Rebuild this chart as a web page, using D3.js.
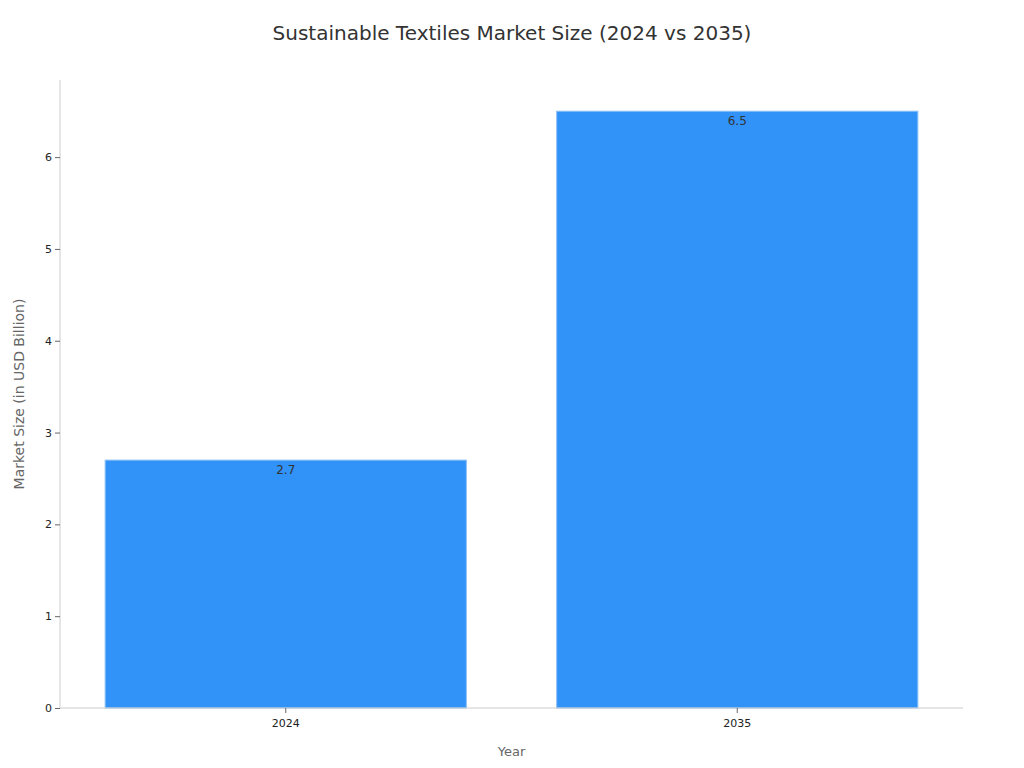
<!DOCTYPE html>
<html><head><meta charset="utf-8">
<script src="https://cdn.jsdelivr.net/npm/d3@7"></script>
<style>body{margin:0;background:#fff;font-family:"DejaVu Sans",sans-serif;}</style>
</head><body>
<svg id="chart" width="1024" height="768"></svg>
<script>
var years = ["2024", "2035"];
var sizes = [2.7, 6.5];
var yTicks = [0, 1, 2, 3, 4, 5, 6];

var svg = d3.select("#chart");
var mLeft = 60, mRight = 963, mTop = 80, mBottom = 708;

var x = d3.scaleBand().domain(years).range([mLeft, mRight]).paddingInner(0.2).paddingOuter(0.1);
var y = d3.scaleLinear().domain([0, 6.84]).range([mBottom, mTop]);

svg.append("text").attr("x", 512).attr("y", 40).attr("text-anchor", "middle")
    .style("font-size", "20px").style("fill", "#333")
    .text("Sustainable Textiles Market Size (2024 vs 2035)");

svg.selectAll("rect.bar").data(sizes).enter().append("rect")
    .attr("class", "bar")
    .attr("x", function(d, i){ return x(years[i]); })
    .attr("width", x.bandwidth())
    .attr("y", function(d){ return y(d); })
    .attr("height", function(d){ return mBottom - y(d); })
    .attr("fill", "#3192f8").attr("stroke", "#8cc0f5").attr("stroke-width", 1);

svg.selectAll("text.val").data(sizes).enter().append("text")
    .attr("class", "val")
    .attr("x", function(d, i){ return x(years[i]) + x.bandwidth() / 2; })
    .attr("y", function(d){ return y(d) + 14; })
    .attr("text-anchor", "middle").style("font-size", "12px").style("fill", "#333")
    .text(function(d){ return d; });

var yAxis = svg.append("g").attr("transform", "translate(" + mLeft + ",0)")
    .call(d3.axisLeft(y).tickValues(yTicks).tickFormat(d3.format("d")).tickSize(5).tickPadding(3));
var xAxis = svg.append("g").attr("transform", "translate(0," + mBottom + ")")
    .call(d3.axisBottom(x).tickSize(5).tickPadding(6));
[xAxis, yAxis].forEach(function(a){
    a.select(".domain").attr("stroke", "#ccc");
    a.selectAll(".tick line").attr("stroke", "#666");
    a.selectAll(".tick text").style("font-size", "11px").style("fill", "#222").style("font-family", "DejaVu Sans");
});
xAxis.select(".domain").attr("d", "M" + mLeft + ",0H" + mRight);
yAxis.select(".domain").attr("d", "M0," + mBottom + "V" + mTop);

svg.append("text").attr("x", (mLeft + mRight) / 2).attr("y", 756).attr("text-anchor", "middle")
    .style("font-size", "13px").style("fill", "#666").text("Year");
svg.append("text").attr("transform", "translate(24," + (mTop + mBottom) / 2 + ") rotate(-90)")
    .attr("text-anchor", "middle").style("font-size", "14px").style("fill", "#666")
    .text("Market Size (in USD Billion)");
</script>
</body></html>
